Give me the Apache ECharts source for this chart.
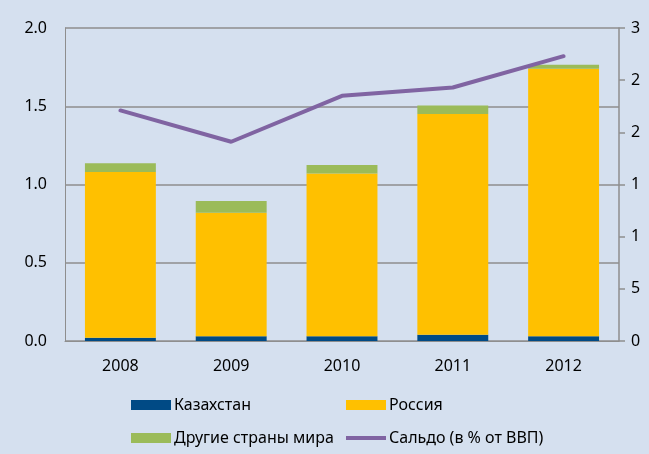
<!DOCTYPE html>
<html>
<head>
<meta charset="utf-8">
<script src="https://cdn.jsdelivr.net/npm/echarts@6/dist/echarts.min.js"></script>
<style>
  html, body { margin: 0; padding: 0; background: #d5e0ef; }
  #chart { width: 649px; height: 454px; }
</style>
</head>
<body>
<div id="chart"></div>
<script>
const years = ['2008', '2009', '2010', '2011', '2012']
// bars, left axis
const kazakhstan = [0.02, 0.03, 0.03, 0.04, 0.03]
const russia = [1.06, 0.79, 1.04, 1.41, 1.71]
const others = [0.055, 0.075, 0.055, 0.055, 0.025]
// line, right axis
const saldo = [22.1, 19.1, 23.5, 24.3, 27.3]
// right axis labels as they show in the picture (cut off at the edge)
const rightTickLabels = ['0', '5', '1', '1', '2', '2', '3']

const names = ['Казахстан', 'Россия', 'Другие страны мира', 'Сальдо (в % от ВВП)']
const gray = '#8e8e8e'
const font = 'Noto Sans'

function legendAt(name, left, top, h) {
  return {
    data: [{ name: name, icon: 'rect' }],
    left: left,
    top: top,
    itemWidth: 40,
    itemHeight: h,
    itemGap: 3,
    padding: 0,
    textStyle: { fontFamily: font, fontSize: 16, color: '#000', padding: [0, 0, 0, -2] }
  }
}

const chart = echarts.init(document.getElementById('chart'))
chart.setOption({
  backgroundColor: '#d5e0ef',
  animation: false,
  grid: { left: 65, right: 30, top: 28, bottom: 113 },
  legend: [
    legendAt(names[0], 131, 397, 10),
    legendAt(names[1], 346, 397, 10),
    legendAt(names[2], 131, 430, 10),
    legendAt(names[3], 346, 430, 4)
  ],
  xAxis: {
    type: 'category',
    data: years,
    axisLine: { lineStyle: { color: gray, width: 1 } },
    axisTick: { show: false },
    axisLabel: { fontFamily: font, fontSize: 16, color: '#000', margin: 17 }
  },
  yAxis: [
    {
      type: 'value',
      min: 0,
      max: 2,
      interval: 0.5,
      axisLine: { show: true, lineStyle: { color: gray, width: 1 } },
      axisTick: { show: false },
      splitLine: { lineStyle: { color: gray, width: 1.5 } },
      axisLabel: {
        fontFamily: font, fontSize: 16, color: '#000', margin: 18,
        formatter: v => v.toFixed(1)
      }
    },
    {
      type: 'value',
      position: 'right',
      min: 0,
      max: 30,
      interval: 5,
      axisLine: { show: true, lineStyle: { color: gray, width: 1.5 } },
      axisTick: { show: true, inside: false, length: 6, lineStyle: { color: gray, width: 1.5 } },
      splitLine: { show: false },
      axisLabel: {
        fontFamily: font, fontSize: 16, color: '#000', margin: 12,
        formatter: (v) => rightTickLabels[Math.round(v / 5)]
      }
    }
  ],
  series: [
    {
      name: names[0], type: 'bar', stack: 'total', data: kazakhstan,
      barWidth: '64%', itemStyle: { color: '#004a85' }
    },
    {
      name: names[1], type: 'bar', stack: 'total', data: russia,
      itemStyle: { color: '#ffc000' }
    },
    {
      name: names[2], type: 'bar', stack: 'total', data: others,
      itemStyle: { color: '#9bbb59' }
    },
    {
      name: names[3], type: 'line', yAxisIndex: 1, data: saldo,
      symbol: 'none', z: 5,
      lineStyle: { color: '#8064a2', width: 4, cap: 'round' },
      itemStyle: { color: '#8064a2' }
    }
  ]
})
</script>
</body>
</html>
